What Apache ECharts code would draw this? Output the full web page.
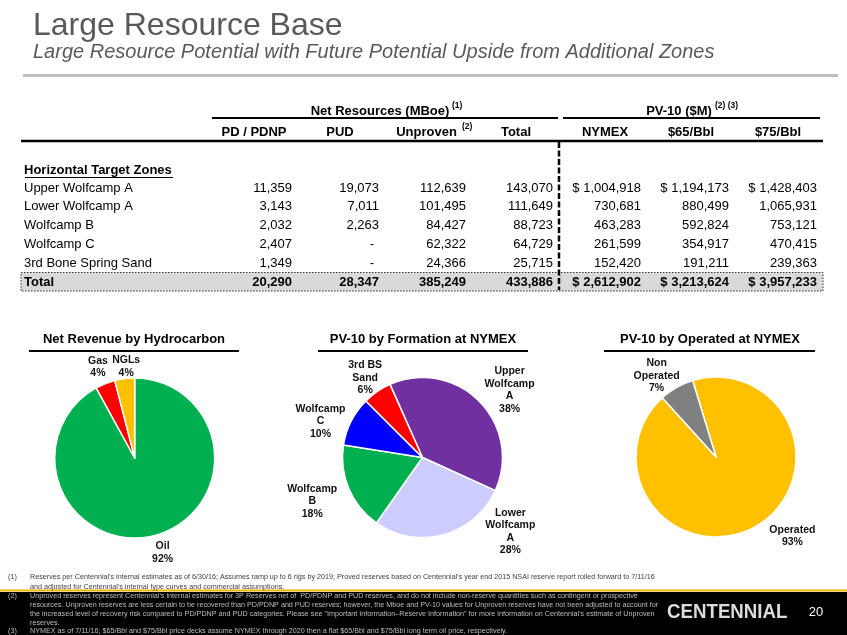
<!DOCTYPE html>
<html><head><meta charset="utf-8">
<script src="https://cdn.jsdelivr.net/npm/echarts@6/dist/echarts.min.js"></script>
<style>html,body{margin:0;padding:0;background:#fff}#c{width:847px;height:635px}</style>
</head><body><div id="c"></div>
<script>
// ---------- data ----------
const zones = ['Upper Wolfcamp A', 'Lower Wolfcamp A', 'Wolfcamp B', 'Wolfcamp C', '3rd Bone Spring Sand'];
const pdPdnp = [11359, 3143, 2032, 2407, 1349];
const pud = [19073, 7011, 2263, null, null];
const unproven = [112639, 101495, 84427, 62322, 24366];
const totalMboe = [143070, 111649, 88723, 64729, 25715];
const pvNymex = [1004918, 730681, 463283, 261599, 152420];
const pv65 = [1194173, 880499, 592824, 354917, 191211];
const pv75 = [1428403, 1065931, 753121, 470415, 239363];
const totalsRow = [20290, 28347, 385249, 433886, 2612902, 3213624, 3957233];
const colHeaders = ['PD / PDNP', 'PUD', 'Unproven', 'Total', 'NYMEX', '$65/Bbl', '$75/Bbl'];

const hydroNames = ['Oil', 'Gas', 'NGLs'];
const hydroShare = [92, 4, 4];
const formationNames = ['Upper\nWolfcamp\nA', 'Lower\nWolfcamp\nA', 'Wolfcamp\nB', 'Wolfcamp\nC', '3rd BS\nSand'];
const formationValues = pvNymex;
const operatedNames = ['Operated', 'Non\nOperated'];
const operatedShare = [93, 7];

const footnotes = [
  ['(1)', ["Reserves per Centennial's internal estimates as of 6/30/16; Assumes ramp up to 6 rigs by 2019; Proved reserves based on Centennial's year end 2015 NSAI reserve report rolled forward to 7/11/16",
           "and adjusted for Centennial's internal type curves and commercial assumptions."]],
  ['(2)', ["Unproved reserves represent Centennial's internal estimates for 3P Reserves net of  PD/PDNP and PUD reserves, and do not include non-reserve quantities such as contingent or prospective",
           "resources. Unproven reserves are less certain to be recovered than PD/PDNP and PUD reserves; however, the Mboe and PV-10 values for Unproven reserves have not been adjusted to account for",
           "the increased level of recovery risk compared to PD/PDNP and PUD categories. Please see \"Important Information\u2013Reserve Information\" for more information on Centennial's estimate of Unproven",
           "reserves."]],
  ['(3)', ["NYMEX as of 7/11/16; $65/Bbl and $75/Bbl price decks assume NYMEX through 2020 then a flat $65/Bbl and $75/Bbl long term oil price, respectively."]]
];

// ---------- style / layout ----------
const FF = "'Liberation Sans', Arial, Helvetica, sans-serif";
const colRight = [292, 379, 466, 553, 641, 729, 817];
const colHeadCenter = [254, 340, 426.5, 516, 605, 691, 778];
const rowY0 = 188, rowStep = 18.8, totalY = 282;

const g = [];
function txt(x, y, text, o) {
  o = o || {};
  g.push({type: 'text', x: x, y: y, silent: true, scaleX: o.scaleX || 1,
    style: {text: text, fill: o.fill || '#000', fontSize: o.size || 13, fontFamily: FF,
      fontWeight: o.weight || 'normal', fontStyle: o.italic ? 'italic' : 'normal',
      align: o.align || 'left', verticalAlign: o.va || 'middle'}});
}
function line(x1, y1, x2, y2, o) {
  o = o || {};
  g.push({type: 'line', silent: true, shape: {x1: x1, y1: y1, x2: x2, y2: y2},
    style: {stroke: o.stroke || '#000', lineWidth: o.w || 1, lineDash: o.dash || null}});
}
function rect(x, y, w, h, o) {
  g.push({type: 'rect', silent: true, shape: {x: x, y: y, width: w, height: h},
    style: {fill: o.fill || 'none', stroke: o.stroke || null, lineWidth: o.w || 1, lineDash: o.dash || null}});
}
const fmt = v => v.toLocaleString('en-US');

// title
txt(33, 26, 'Large Resource Base', {size: 32, fill: '#595959'});
txt(33, 52, 'Large Resource Potential with Future Potential Upside from Additional Zones', {size: 20, fill: '#595959', italic: true});
line(23, 75.5, 838, 75.5, {stroke: '#c0c0c0', w: 3});

// table headers
txt(380, 111, 'Net Resources (MBoe)', {weight: 'bold', align: 'center'});
txt(452, 106, '(1)', {weight: 'bold', size: 8.5});
line(212, 118, 558, 118, {w: 2});
txt(679, 111, 'PV-10 ($M)', {weight: 'bold', align: 'center'});
txt(715, 106, '(2) (3)', {weight: 'bold', size: 8.5});
line(563, 118, 820, 118, {w: 2});
colHeaders.forEach((h, i) => txt(colHeadCenter[i], 132, h, {weight: 'bold', align: 'center'}));
txt(462, 127, '(2)', {weight: 'bold', size: 8.5});
line(21, 141, 823, 141, {w: 2.5});

// total row box (behind)
rect(21, 272.5, 802, 18.5, {fill: '#d9d9d9', stroke: '#333', w: 1, dash: [1.5, 1.5]});

// body
txt(24, 170, 'Horizontal Target Zones', {weight: 'bold'});
line(25, 177.5, 173, 177.5, {w: 1});
const cols = [pdPdnp, pud, unproven, totalMboe, pvNymex, pv65, pv75];
zones.forEach((z, r) => {
  const y = rowY0 + r * rowStep;
  txt(24, y, z);
  cols.forEach((c, ci) => {
    const v = c[r];
    if (v == null) { txt(colRight[ci] - 5, y, '-', {align: 'right'}); return; }
    const s = (ci >= 4 && r === 0 ? '$ ' : '') + fmt(v);
    txt(colRight[ci], y, s, {align: 'right'});
  });
});
txt(24, totalY, 'Total', {weight: 'bold'});
totalsRow.forEach((v, ci) => txt(colRight[ci], totalY, (ci >= 4 ? '$ ' : '') + fmt(v), {weight: 'bold', align: 'right'}));
line(559, 142, 559, 290, {w: 2.5, dash: [6, 2.5]});

// pie titles
[['Net Revenue by Hydrocarbon', 134, 29, 239], ['PV-10 by Formation at NYMEX', 423, 318, 528], ['PV-10 by Operated at NYMEX', 710, 604, 815]]
  .forEach(t => { txt(t[1], 339, t[0], {weight: 'bold', align: 'center'}); line(t[2], 351, t[3], 351, {w: 2}); });

// footer
rect(0, 592, 847, 43, {fill: '#000'});
line(0, 590.5, 847, 590.5, {stroke: '#f0b400', w: 2});
let fy = [[577, 587], [596, 605, 614, 623], [631]];
footnotes.forEach((f, i) => {
  const col = i === 0 ? '#404040' : '#bfbfbf';
  txt(8, fy[i][0], f[0], {size: 7.2, fill: col});
  f[1].forEach((l, j) => txt(30, fy[i][j], l, {size: 7.2, fill: col}));
});
txt(667, 612, 'CENTENNIAL', {size: 21, weight: 'bold', fill: '#dcdcdc', scaleX: 0.89});
txt(816, 612, '20', {size: 13, fill: '#fff', align: 'center'});

// ---------- pies ----------
const pieLabelNudge = [
  [[3, -2], [0, 2], [4, 8]],
  [[9, 10], [59, -32], [-9, 1], [-4, 14], [5, 11]],
  [[27, -8], [-10, 6]]
];
function pieSeries(idx, names, values, colors, center, startAngle, reach) {
  return {
    type: 'pie', center: center, radius: 80, startAngle: startAngle, clockwise: true,
    avoidLabelOverlap: false, animation: false, silent: true,
    data: names.map((n, i) => ({name: n, value: values[i], itemStyle: {color: colors[i]}})),
    itemStyle: {borderColor: '#fff', borderWidth: 1.5},
    label: {show: true, position: 'outside', distanceToLabelLine: 0,
      formatter: p => p.name + '\n' + Math.round(p.percent) + '%',
      fontSize: 10.5, fontWeight: 'bold', fontFamily: FF, color: '#111', lineHeight: 12.5},
    labelLine: {show: false, length: reach, length2: 0},
    labelLayout: p => ({align: 'center', verticalAlign: 'middle',
      dx: pieLabelNudge[idx][p.dataIndex][0], dy: pieLabelNudge[idx][p.dataIndex][1]}),
    emphasis: {disabled: true}
  };
}

const chart = echarts.init(document.getElementById('c'), null, {renderer: 'canvas'});
chart.setOption({
  animation: false,
  series: [
    pieSeries(0, hydroNames, hydroShare, ['#00b050', '#ff0000', '#ffc000'], [134.7, 458], 90, 20),
    pieSeries(1, formationNames, formationValues, ['#7030a0', '#ccccff', '#00b050', '#0000ff', '#ff0000'], [422.5, 457.5], 114, 30),
    pieSeries(2, operatedNames, operatedShare, ['#ffc000', '#808080'], [716, 457], 107, 20)
  ],
  graphic: {elements: g}
});
</script></body></html>
